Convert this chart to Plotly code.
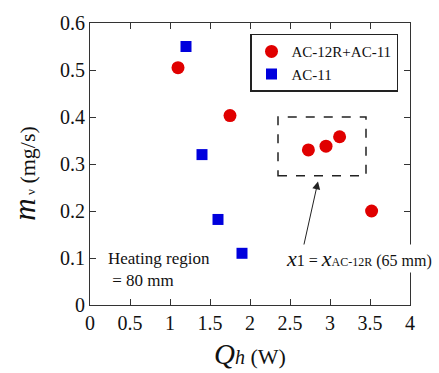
import plotly.graph_objects as go

# Data
red_x = [1.1, 1.75, 2.73, 2.95, 3.12, 3.52]
red_y = [0.505, 0.403, 0.330, 0.338, 0.358, 0.200]
blue_x = [1.2, 1.4, 1.6, 1.9]
blue_y = [0.550, 0.320, 0.182, 0.110]
red_name = "AC-12R+AC-11"
blue_name = "AC-11"
x_ticks = [0, 0.5, 1, 1.5, 2, 2.5, 3, 3.5, 4]
x_tick_labels = ["0", "0.5", "1", "1.5", "2", "2.5", "3", "3.5", "4"]
y_ticks = [0, 0.1, 0.2, 0.3, 0.4, 0.5, 0.6]
y_tick_labels = ["0", "0.1", "0.2", "0.3", "0.4", "0.5", "0.6"]

FONT = "Liberation Serif, Times New Roman, serif"

fig = go.Figure()
fig.add_trace(go.Scatter(x=red_x, y=red_y, mode="markers", name=red_name,
                         marker=dict(symbol="circle", size=13, color="#e00000")))
fig.add_trace(go.Scatter(x=blue_x, y=blue_y, mode="markers", name=blue_name,
                         marker=dict(symbol="square", size=11, color="#0000dd")))

axis_common = dict(showline=True, linecolor="#333", linewidth=1, mirror="allticks",
                   ticks="inside", ticklen=6, tickcolor="#333", showgrid=False,
                   zeroline=False, tickfont=dict(family=FONT, size=20, color="#111"))

fig.update_xaxes(range=[0, 4], tickvals=x_ticks, ticktext=x_tick_labels, **axis_common)
fig.update_yaxes(range=[0, 0.6], tickvals=y_ticks, ticktext=y_tick_labels, **axis_common)

# dashed box around cluster
fig.add_shape(type="rect", x0=2.35, x1=3.45, y0=0.275, y1=0.40,
              line=dict(color="#222", width=1.5, dash="dash"))

annotations = [
    dict(x=2.85, y=0.263, ax=2.65, ay=0.11, xref="x", yref="y", axref="x", ayref="y",
         text="", showarrow=True, arrowhead=2, arrowsize=1.6, arrowwidth=1, arrowcolor="#222"),
    dict(x=3.36, y=0.099, xref="x", yref="y", showarrow=False,
         text="<i><span style='font-size:22px'>x</span></i>1 = <i><span style='font-size:22px'>x</span></i><span style='font-size:12px'>AC-12R</span> (65 mm)",
         font=dict(family=FONT, size=16, color="#111"), bgcolor="white"),
    dict(x=0.2, y=0.075, xref="x", yref="y", showarrow=False, xanchor="left", align="left",
         text="Heating region<br> = 80 mm", font=dict(family=FONT, size=17, color="#111")),
    dict(x=-0.203, y=0.466, xref="paper", yref="paper", showarrow=False, textangle=-90,
         xanchor="center", yanchor="middle",
         text="<i><span style='font-size:31px'>m</span></i><span style='font-size:13px'> ν</span> (mg/s)",
         font=dict(family=FONT, size=22, color="#111")),
    dict(x=0.5, y=-0.175, xref="paper", yref="paper", showarrow=False,
         xanchor="center", yanchor="middle",
         text="<i><span style='font-size:29px'>Q</span><span style='font-size:20px'>h</span></i> (W)",
         font=dict(family=FONT, size=22, color="#111")),
]

fig.update_layout(
    width=439, height=373,
    margin=dict(l=90, r=29, t=15, b=68),
    plot_bgcolor="white", paper_bgcolor="white",
    showlegend=True,
    legend=dict(x=0.5, y=0.962, xanchor="left", yanchor="top",
                bordercolor="#222", borderwidth=1.5, bgcolor="white",
                font=dict(family=FONT, size=15, color="#111"), tracegroupgap=0),
    annotations=annotations,
)

fig.write_html("out.html")
